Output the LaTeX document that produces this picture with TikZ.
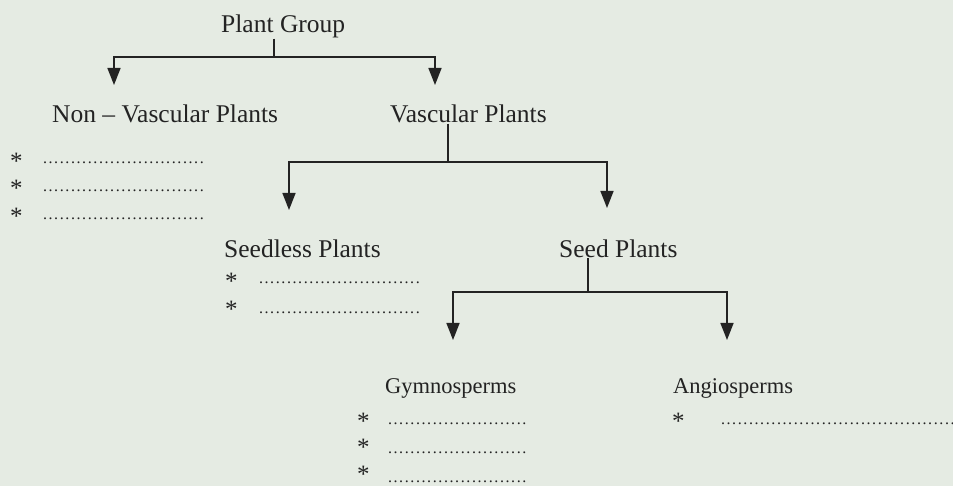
\documentclass[tikz,border=0pt]{standalone}
\usepackage{fontspec}
\setmainfont{Liberation Serif}
\usetikzlibrary{arrows.meta}
\definecolor{bg}{RGB}{229,235,227}
\definecolor{ink}{RGB}{35,35,35}
\newcommand\dotrow[1]{\makebox[#1pt]{\fontsize{16}{16}\selectfont\leaders\hbox to 5.6pt{\hss.\hss}\hfill}}
\begin{document}
\begin{tikzpicture}[x=1pt,y=-1pt,
  lab/.style={inner sep=0pt, anchor=base west, font=\fontsize{25.5}{26}\selectfont, text=ink},
  lab2/.style={lab, font=\fontsize{22.5}{24}\selectfont},
  star/.style={inner sep=0pt, anchor=base west, font=\fontsize{25}{25}\selectfont, text=ink},
  dots/.style={inner sep=0pt, anchor=base west, text=ink},
  wire/.style={draw=ink, line width=1.6pt},
  arr/.style={wire, -{Triangle[length=17pt,width=13pt]}}]
\fill[bg] (0,0) rectangle (953,486);
\useasboundingbox (0,0) rectangle (953,486);
% labels
\node[lab] (pg) at (221,33) {Plant Group};
\node[lab] (nv) at (52,123) {Non – Vascular Plants};
\node[lab] (vp) at (390,123) {Vascular Plants};
\node[lab] (sl) at (224,258) {Seedless Plants};
\node[lab] (sp) at (559,258) {Seed Plants};
\node[lab2] (gy) at (385,393) {Gymnosperms};
\node[lab2] (an) at (673,393) {Angiosperms};
% connectors
\coordinate (j1) at (274,57);
\coordinate (t1) at (114,85);
\coordinate (t2) at (435,85);
\draw[wire] (pg.south -| j1) -- (j1);
\draw[arr] (j1) -| (t1);
\draw[arr] (j1) -| (t2);
\coordinate (j2) at (448,162);
\coordinate (t3) at (289,210);
\coordinate (t4) at (607,208);
\draw[wire] (vp.south -| j2) -- (j2);
\draw[arr] (j2) -| (t3);
\draw[arr] (j2) -| (t4);
\coordinate (j3) at (588,292);
\coordinate (t5) at (453,340);
\coordinate (t6) at (727,340);
\draw[wire] (sp.south -| j3) -- (j3);
\draw[arr] (j3) -| (t5);
\draw[arr] (j3) -| (t6);
% non-vascular items
\node[star] (s1a) at (10,170) {*};
\node[star] (s1b) at (10,197) {*};
\node[star] (s1c) at (10,225) {*};
\node[dots] (d1a) at (42,164) {\dotrow{168}};
\node[dots] (d1b) at (42,192) {\dotrow{168}};
\node[dots] (d1c) at (42,220) {\dotrow{168}};
% seedless items
\node[star] (s2a) at (225,290) {*};
\node[star] (s2b) at (225,318) {*};
\node[dots] (d2a) at (258,284) {\dotrow{165}};
\node[dots] (d2b) at (258,314) {\dotrow{165}};
% gymnosperm items
\node[star] (s3a) at (357,429) {*};
\node[star] (s3b) at (357,455) {*};
\node[star] (s3c) at (357,482) {*};
\node[dots] (d3a) at (387,424) {\dotrow{140}};
\node[dots] (d3b) at (387,453) {\dotrow{140}};
\node[dots] (d3c) at (387,482) {\dotrow{140}};
% angiosperm item
\node[star] (s4a) at (672,429) {*};
\node[dots] (d4a) at (720,424) {\dotrow{236}};
\end{tikzpicture}
\end{document}
